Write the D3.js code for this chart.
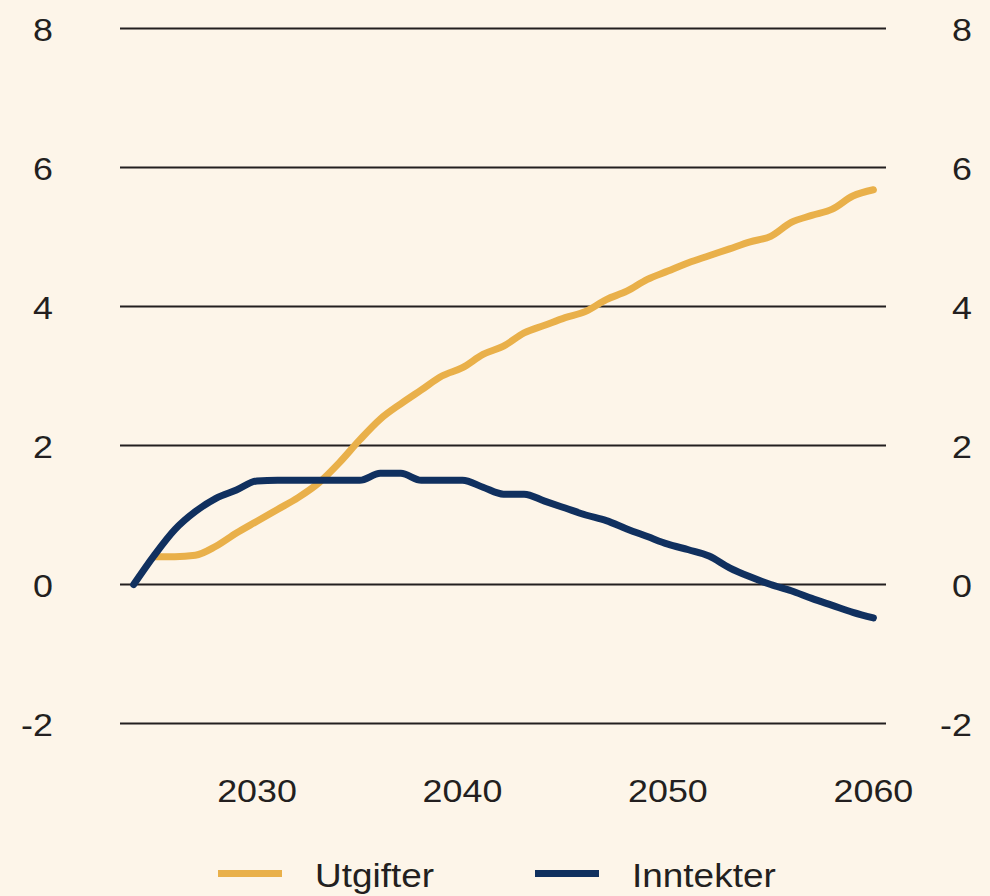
<!DOCTYPE html>
<html>
<head>
<meta charset="utf-8">
<script src="https://cdn.jsdelivr.net/npm/d3@7"></script>
<style>
  html, body { margin: 0; padding: 0; background: #fdf5e9; }
  svg { display: block; }
  text { font-family: "Liberation Sans", Arial, sans-serif; fill: #231f20; }
</style>
</head>
<body>
<svg id="chart" width="990" height="896"></svg>
<script>
const years = d3.range(2024, 2061);
const utgifter = [null, 0.4, 0.4, 0.42, 0.55, 0.74, 0.91, 1.08, 1.25, 1.46, 1.75, 2.08, 2.38, 2.6, 2.8, 3.0, 3.12, 3.31, 3.43, 3.62, 3.73, 3.84, 3.93, 4.1, 4.22, 4.39, 4.51, 4.63, 4.73, 4.83, 4.93, 5.01, 5.21, 5.31, 5.4, 5.59, 5.68];
const inntekter = [0, 0.42, 0.79, 1.05, 1.24, 1.36, 1.49, 1.5, 1.5, 1.5, 1.5, 1.5, 1.6, 1.6, 1.5, 1.5, 1.5, 1.4, 1.3, 1.3, 1.2, 1.1, 1.0, 0.92, 0.8, 0.69, 0.58, 0.5, 0.41, 0.24, 0.11, 0.0, -0.09, -0.2, -0.3, -0.4, -0.48];
const yTicks = [-2, 0, 2, 4, 6, 8];
const xTicks = [2030, 2040, 2050, 2060];
const seriesNames = ["Utgifter", "Inntekter"];
const seriesColors = ["#e9b04a", "#10305f"];

const svg = d3.select("#chart");
const x = d3.scaleLinear().domain([2024, 2060]).range([133.7, 873.4]);
const y = d3.scaleLinear().domain([-2, 8]).range([723.5, 28.5]);
const SX = 1.12;

// gridlines
svg.append("g").selectAll("line").data(yTicks).join("line")
  .attr("x1", 120).attr("x2", 886)
  .attr("y1", d => y(d)).attr("y2", d => y(d))
  .attr("stroke", "#231f20").attr("stroke-width", 2);

// y labels left & right
function yLabel(xPos) {
  svg.append("g").selectAll("text").data(yTicks).join("text")
    .attr("transform", d => `translate(${xPos},${y(d) + 12}) scale(${SX},1)`)
    .attr("text-anchor", "end")
    .attr("font-size", 32)
    .text(d => d);
}
yLabel(53);
yLabel(972);

// x labels
svg.append("g").selectAll("text").data(xTicks).join("text")
  .attr("transform", d => `translate(${x(d)},802) scale(${SX},1)`)
  .attr("text-anchor", "middle")
  .attr("font-size", 32)
  .text(d => d);

// lines
const line = d3.line()
  .defined(d => d !== null)
  .x((d, i) => x(years[i]))
  .y(d => y(d))
  .curve(d3.curveMonotoneX);

[utgifter, inntekter].forEach((s, k) => {
  svg.append("path")
    .attr("d", line(s))
    .attr("fill", "none")
    .attr("stroke", seriesColors[k])
    .attr("stroke-width", 7)
    .attr("stroke-linejoin", "round")
    .attr("stroke-linecap", "round");
});

// legend
const legendX = [218, 535];
const legendTextX = [315, 632];
seriesNames.forEach((name, k) => {
  svg.append("line")
    .attr("x1", legendX[k]).attr("x2", legendX[k] + 64)
    .attr("y1", 873.5).attr("y2", 873.5)
    .attr("stroke", seriesColors[k]).attr("stroke-width", 7);
  svg.append("text")
    .attr("transform", `translate(${legendTextX[k]},887) scale(${SX},1)`)
    .attr("font-size", 33)
    .text(name);
});
</script>
</body>
</html>
